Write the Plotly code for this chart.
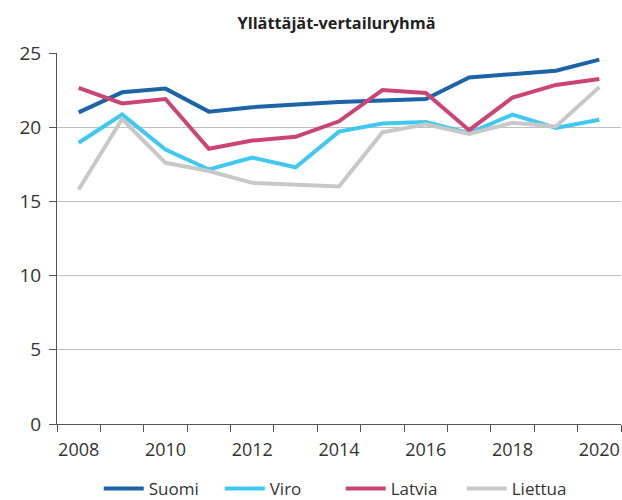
import plotly.graph_objects as go

years = list(range(2008, 2021))
label_years = list(range(2008, 2021, 2))
suomi = [21.0, 22.35, 22.6, 21.05, 21.35, 21.55, 21.7, 21.8, 21.9, 23.35, 23.55, 23.8, 24.55]
viro = [18.95, 20.85, 18.5, 17.15, 17.95, 17.3, 19.7, 20.25, 20.35, 19.6, 20.85, 19.95, 20.5]
latvia = [22.65, 21.6, 21.9, 18.55, 19.1, 19.35, 20.4, 22.5, 22.3, 19.8, 22.0, 22.85, 23.25]
liettua = [15.8, 20.55, 17.6, 17.05, 16.25, 16.15, 16.0, 19.65, 20.2, 19.55, 20.3, 20.05, 22.7]

series = [
    ("Suomi", suomi, "#1c63a8"),
    ("Viro", viro, "#40c8f2"),
    ("Latvia", latvia, "#cc4474"),
    ("Liettua", liettua, "#c8c8c8"),
]

fig = go.Figure()
for name, vals, col in series:
    fig.add_trace(go.Scatter(x=years, y=vals, name=name, mode="lines",
                             line=dict(color=col, width=4)))

xr = [years[0] - 0.5, years[-1] + 0.5]
boundaries = [y - 0.5 for y in years] + [years[-1] + 0.5]

fig.update_layout(
    width=622, height=500,
    margin=dict(l=57, r=1, t=53, b=76, autoexpand=False),
    paper_bgcolor="white", plot_bgcolor="white",
    font=dict(family="Open Sans, Noto Sans, sans-serif", color="#333333", size=17),
    title=dict(text="<b>Yllättäjät-vertailuryhmä</b>", x=0.541, xanchor="center",
               y=0.954, yanchor="middle", font=dict(size=16.3, color="#222222")),
    legend=dict(orientation="h", x=0.074, xanchor="left",
                yref="paper", y=-0.175, yanchor="middle",
                entrywidthmode="pixels", entrywidth=66, itemwidth=40,
                font=dict(size=17, color="#333333")),
    showlegend=True,
    xaxis=dict(range=xr, tickmode="array", tickvals=label_years,
               ticktext=[str(v) for v in label_years], ticks="",
               showgrid=False, showline=True, ticklabelstandoff=9,
               linecolor="#555555", linewidth=1, zeroline=False, automargin=False,
               tickfont=dict(size=18, color="#333333"),
               minor=dict(tickmode="array", tickvals=boundaries, ticks="outside",
                          ticklen=7, tickcolor="#555555", showgrid=False)),
    yaxis=dict(range=[0, 25], dtick=5, ticks="outside", ticklen=7,
               tickcolor="#555555", showline=True, linecolor="#555555",
               linewidth=1, gridcolor="#bfbfbf", gridwidth=1, zeroline=False,
               tickfont=dict(size=19, color="#333333"), automargin=False,
               ticklabelstandoff=4),
)

fig.write_html(
    "out.html",
    config={"displayModeBar": False},
    post_script="document.body.style.margin='0';"
                "document.body.style.overflow='hidden';"
                "document.documentElement.style.overflow='hidden';",
)
